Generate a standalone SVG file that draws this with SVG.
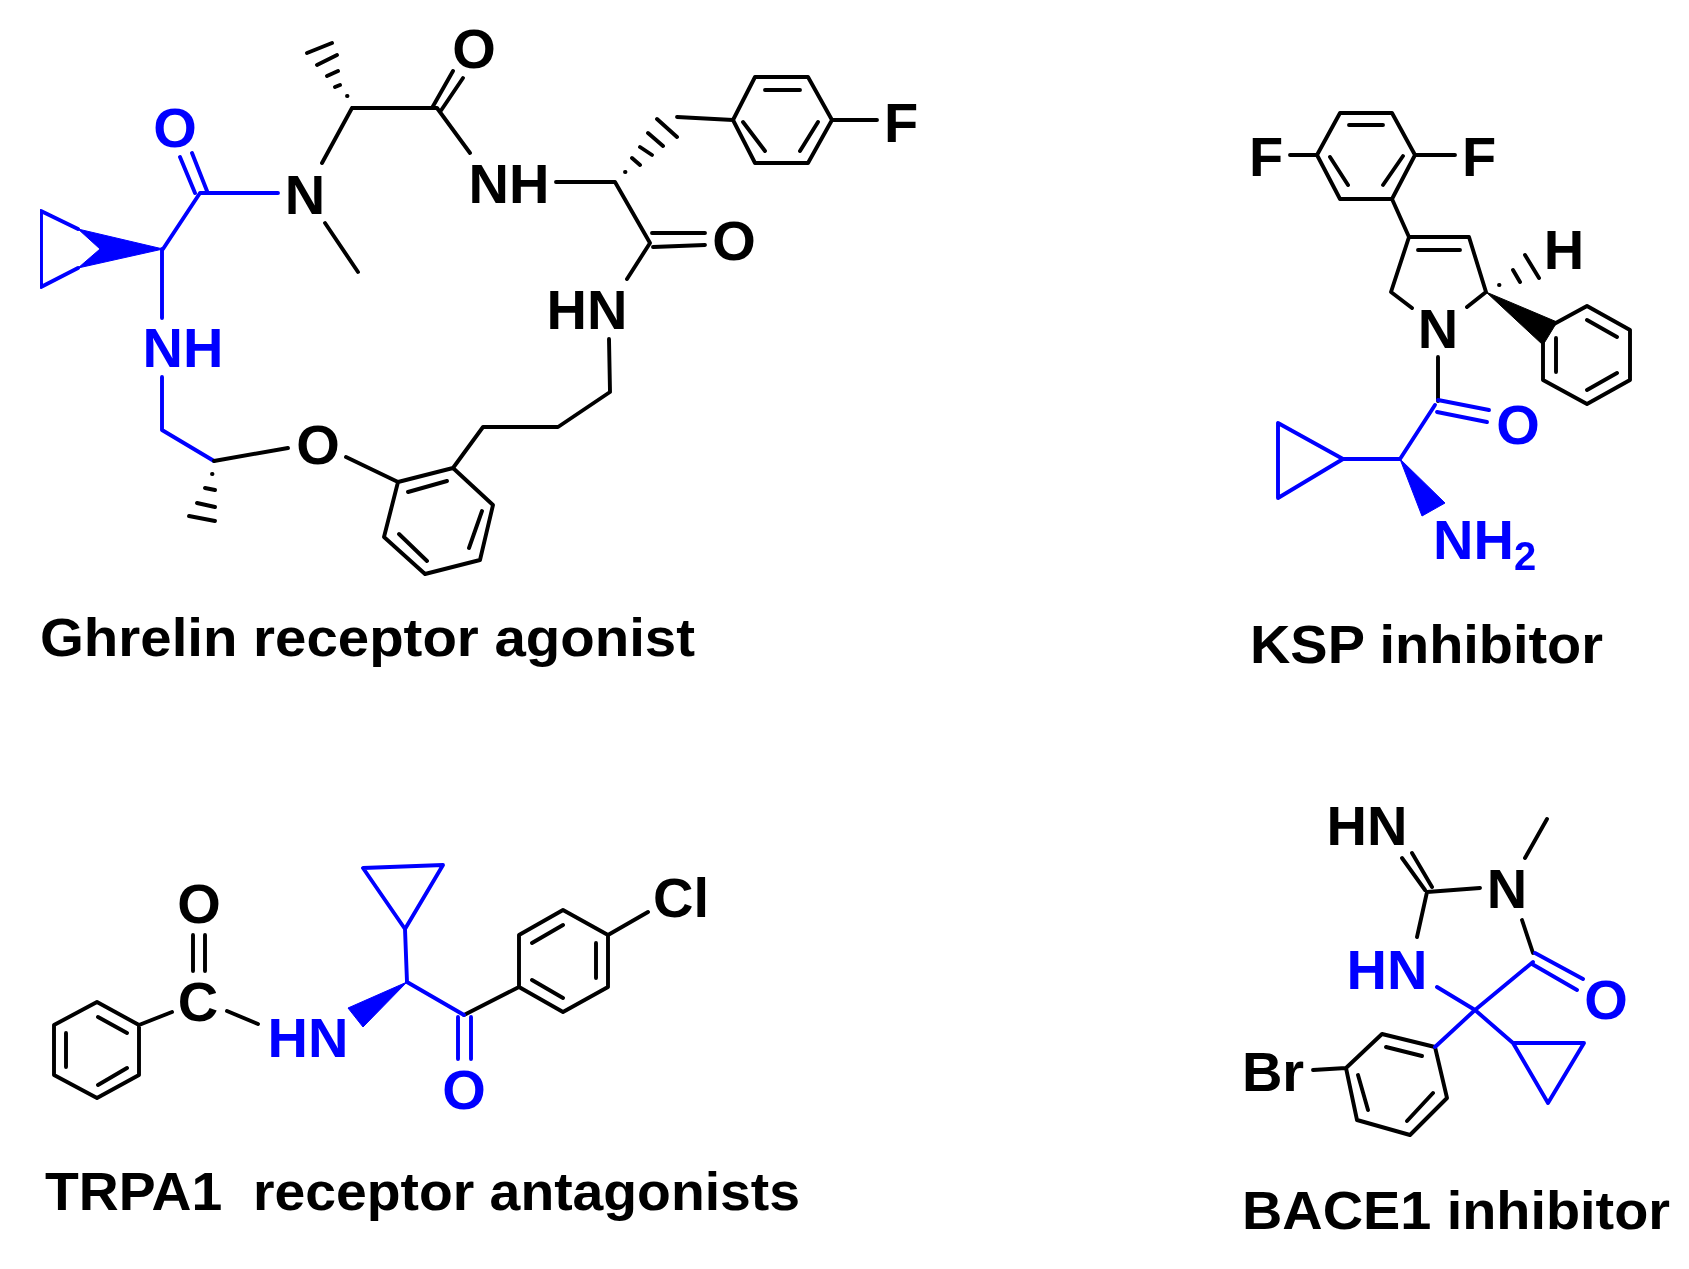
<svg xmlns="http://www.w3.org/2000/svg" width="1689" height="1269" viewBox="0 0 1689 1269">
<defs><filter id="soft" x="0" y="0" width="100%" height="100%"><feGaussianBlur stdDeviation="0.7"/></filter></defs>
<style>
.k{fill:none;stroke:#050505;stroke-width:3.9;stroke-linecap:round;stroke-linejoin:round}
.b{fill:none;stroke:#0000ff;stroke-width:3.9;stroke-linecap:round;stroke-linejoin:round}
.kf{fill:#050505;stroke:#050505;stroke-width:1;stroke-linejoin:round}
.bf{fill:#0000ff;stroke:#0000ff;stroke-width:1;stroke-linejoin:round}
text{font-family:"Liberation Sans",Arial,sans-serif;font-weight:700;font-size:56px;text-anchor:middle;fill:#050505}
text.bt{fill:#0000ff}
text.cap{text-anchor:start;font-size:54px}
</style>
<rect width="1689" height="1269" fill="#ffffff"/>
<g filter="url(#soft)">
<g id="ghrelin-receptor-agonist">
<path class="b" d="M78 229L41 211V287L78 268M163 249L200 193H278M180 157L195 193M192 153L207 191M162 249V318M162 377V430L214 461"/>
<polygon class="bf" points="163,249 78,229 100,249 78,268"/>
<text class="bt" x="175" y="147">O</text>
<text class="bt" x="183" y="367">NH</text>
<path class="k" d="M214 461L288 448M346 457L398 482L453 468L493 505L480 560L425 574L384 537L398 482M408 492L447 481M482 511L469 548M399 534L427 561M453 468L483 427H558L610 392L609 339M627 279L650 243L615 182H556M652 233H705M653 247L705 245M677 117L733 120L755 77H808L832 120L808 163H755L733 120M765 90H800M818 122L800 151M743 122L765 151M832 120H877M352 108H437L470 153M322 163L352 108M325 223L358 272M432 108L453 71M440 112L463 78"/>
<path class="k" d="M625 172h.5M632 158L640 165M640 147L652 155M648 133L663 146M657 119L677 137M347 96h.5M335 87L340 85M327 76L338 71M317 65L337 55M307 53L332 43M212 474h.5M205 488L215 490M197 503L215 507M189 516L215 521"/>
<text x="305" y="214">N</text>
<text x="474" y="68">O</text>
<text x="318" y="464">O</text>
<text x="509" y="203">NH</text>
<text x="587" y="329">HN</text>
<text x="734" y="260">O</text>
<text x="901" y="142">F</text>
<text class="cap" x="40" y="656" textLength="655" lengthAdjust="spacingAndGlyphs">Ghrelin receptor agonist</text>
</g>
<g id="ksp-inhibitor">
<path class="k" d="M1317 155L1340 113H1392L1415 155L1392 199H1340ZM1349 125H1383M1383 185L1403 156M1330 157L1348 185M1290 155H1317M1415 155H1455M1392 199L1409 237H1469L1486 292L1467 307M1418 250H1460M1409 237L1391 292L1412 308M1587 306L1630 330V380L1587 404L1543 380V330ZM1587 320L1617 337M1617 373L1587 390M1556 338V372M1438 357V401"/>
<path class="k" d="M1499 285h.5M1513 270L1520 282M1525 255L1539 278"/>
<polygon class="kf" points="1486,292 1557,322 1543,345"/>
<path class="b" d="M1438 400L1489 410M1437 412L1487 422M1435 405L1400 459H1343L1278 423V498L1343 459"/>
<polygon class="bf" points="1400,459 1445,503 1422,516"/>
<text x="1266" y="176">F</text>
<text x="1479" y="176">F</text>
<text x="1564" y="269">H</text>
<text x="1438" y="348">N</text>
<text class="bt" x="1518" y="444">O</text>
<text class="bt" x="1433" y="559" style="text-anchor:start">NH<tspan dy="11" font-size="40">2</tspan></text>
<text class="cap" x="1250" y="663" textLength="353" lengthAdjust="spacingAndGlyphs">KSP inhibitor</text>
</g>
<g id="trpa1-receptor-antagonists">
<path class="k" d="M139 1025L97 1002L54 1025V1075L97 1098L139 1075ZM98 1017L127 1033M66 1033V1067M98 1085L127 1068M139 1025L172 1012M227 1011L258 1024M193 935V971M205 935V971M464 1015L519 987V935L563 910L608 935V987L563 1012L519 987M532 943L563 925M596 943V978M532 980L563 998M608 935L648 912"/>
<path class="b" d="M407 982L405 929L363 868L443 865L405 929M407 982L464 1015M458 1017V1059M471 1017V1059"/>
<polygon class="bf" points="407,982 348,1008 363,1027"/>
<text x="198" y="1021">C</text>
<text x="199" y="923">O</text>
<text x="681" y="917">Cl</text>
<text class="bt" x="308" y="1057">HN</text>
<text class="bt" x="464" y="1109">O</text>
<text class="cap" x="45" y="1210" textLength="755" lengthAdjust="spacingAndGlyphs" xml:space="preserve">TRPA1  receptor antagonists</text>
</g>
<g id="bace1-inhibitor">
<path class="k" d="M1402 858L1425 890M1412 853L1432 887M1427 892L1480 888M1525 858L1547 819M1427 892L1417 937M1522 920L1533 953M1435 1047L1382 1034L1346 1068L1357 1120L1410 1135L1447 1098ZM1386 1047L1422 1056M1358 1075L1368 1110M1407 1121L1433 1093M1313 1070L1346 1068"/>
<path class="b" d="M1535 953L1583 979M1532 964L1577 990M1533 962L1475 1010L1437 987M1475 1010L1435 1047M1475 1010L1513 1043H1584L1548 1103L1513 1043"/>
<text x="1367" y="845">HN</text>
<text x="1507" y="908">N</text>
<text x="1273" y="1091">Br</text>
<text class="bt" x="1387" y="989">HN</text>
<text class="bt" x="1606" y="1019">O</text>
<text class="cap" x="1242" y="1229" textLength="428" lengthAdjust="spacingAndGlyphs">BACE1 inhibitor</text>
</g>
</g>
</svg>
